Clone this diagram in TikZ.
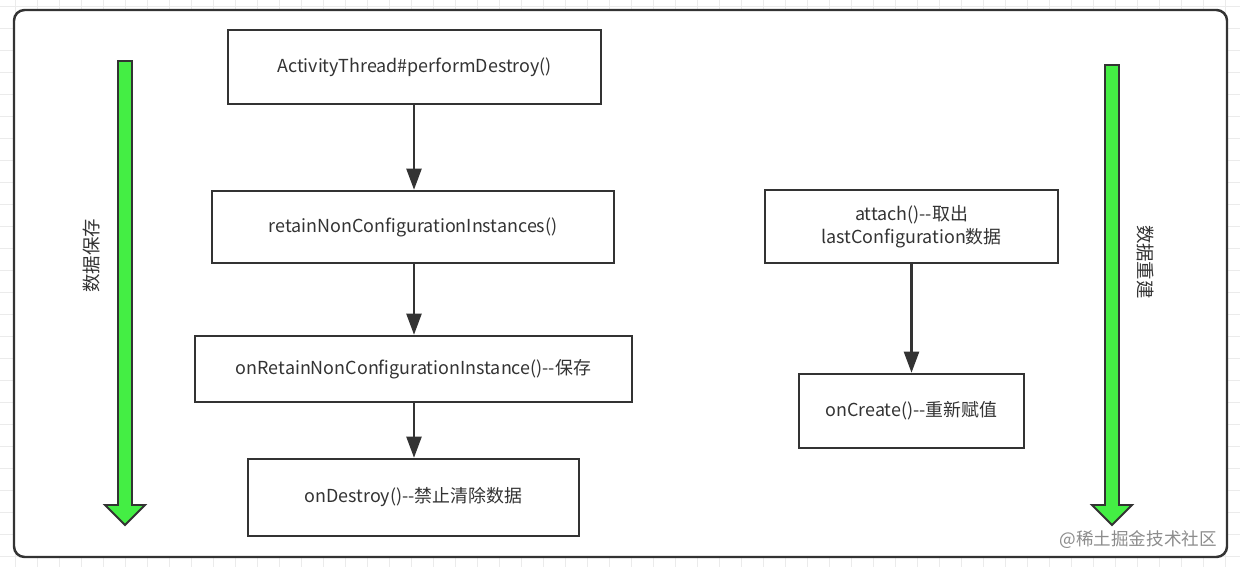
\documentclass[tikz,border=0pt]{standalone}
\usepackage{fontspec}
\setmainfont{Noto Sans CJK SC}
\usepackage{xcolor}
\usetikzlibrary{arrows.meta,positioning}

\definecolor{linegray}{RGB}{51,51,51}
\definecolor{gridgray}{RGB}{235,235,235}
\definecolor{flowgreen}{RGB}{68,238,68}

\begin{document}
\begin{tikzpicture}[x=0.02cm, y=-0.02cm, font=\fontsize{10.2}{13}\selectfont]
        \tikzstyle{block} = [rectangle, draw=linegray, line width=1.4pt, text=linegray, fill=white, align=center, inner sep=0pt]
        \tikzstyle{arrow} = [-{Triangle[width=8.5pt, length=12pt]}, line width=1.4pt, draw=linegray]
        \tikzstyle{bigarrow} = [draw=linegray, line width=1.1pt, fill=flowgreen, line join=miter]
        \tikzstyle{side} = [text=linegray, font=\fontsize{10.5}{12}\selectfont]

        \useasboundingbox (0,0) rectangle (1240,567);
        % background grid
        \foreach \gx in {15,37,...,1240} \draw[gridgray, line width=0.5pt] (\gx,0) -- (\gx,567);
        \foreach \gy in {6,28,...,567} \draw[gridgray, line width=0.5pt] (0,\gy) -- (1240,\gy);
        \draw[linegray, line width=1.4pt, fill=white, rounded corners=6pt] (14,10) rectangle (1227,557);

        % left column
        \node (destroy) [block, minimum width=7.46cm, minimum height=1.48cm] at (414.5,67) {ActivityThread\#performDestroy()};
        \node (retain) [block, minimum width=8.04cm, minimum height=1.44cm] at (413,227) {retainNonConfigurationInstances()};
        \node (onretain) [block, minimum width=8.74cm, minimum height=1.32cm] at (413.5,369) {onRetainNonConfigurationInstance()-{}-保存};
        \node (ondestroy) [block, minimum width=6.62cm, minimum height=1.54cm] at (413.5,497.5) {onDestroy()-{}-禁止清除数据};

        % right column
        \node (attach) [block, minimum width=5.86cm, minimum height=1.46cm] at (911.5,226.5) {attach()-{}-取出\\lastConfiguration数据};
        \node (oncreate) [block, minimum width=4.5cm, minimum height=1.48cm] at (911.5,411) {onCreate()-{}-重新赋值};

        \draw[arrow] (destroy.south -| 414,0) -- (retain.north -| 414,0);
        \draw[arrow] (retain.south -| 414,0) -- (onretain.north -| 414,0);
        \draw[arrow] (onretain.south -| 414,0) -- (ondestroy.north -| 414,0);
        \draw[arrow] (attach) -- (oncreate);

        % big green arrows
        \draw[bigarrow] (118,61) -- (132,61) -- (132,505) -- (145,505) -- (125,525) -- (105,505) -- (118,505) -- cycle;
        \draw[bigarrow] (1105,65) -- (1119,65) -- (1119,505) -- (1132,505) -- (1112,525) -- (1092,505) -- (1105,505) -- cycle;
        \node (save) [side, rotate=90] at (92,256) {数据保存};
        \node (rebuild) [side, rotate=-90] at (1145,262) {数据重建};

        \node (mark) [anchor=east, text=black!45, font=\fontsize{10}{12}\selectfont] at (1223,540) {@稀土掘金技术社区};
    \end{tikzpicture}
\end{document}
